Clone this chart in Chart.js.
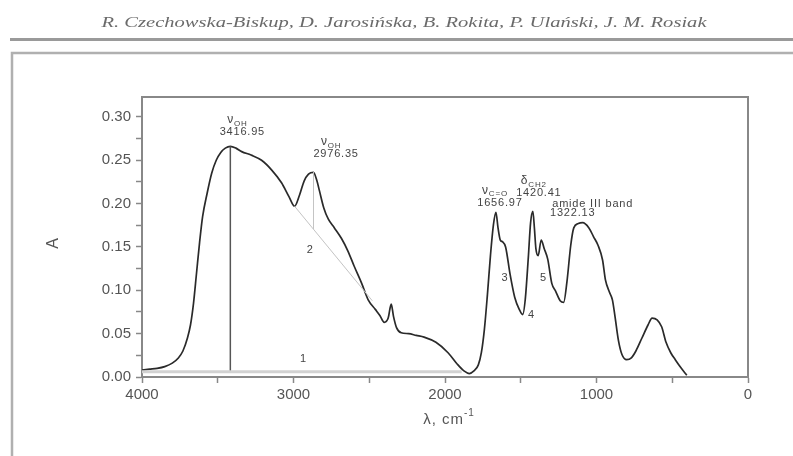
<!DOCTYPE html>
<html lang="en">
<head>
    <meta charset="UTF-8">
    <title>FTIR spectrum</title>
    <script src="https://cdn.jsdelivr.net/npm/chart.js"></script>
    <style>
        body {
            margin: 0;
            padding: 0;
            background: #fff;
        }
        canvas {
            display: block;
        }
    </style>
</head>
<body>
    <canvas id="myChart" width="793" height="456"></canvas>

    <script>
        // wavenumber (cm-1) and absorbance
        var wavenumbers = [4000, 3950, 3900, 3850, 3800, 3760, 3730, 3700, 3680, 3660, 3640, 3620, 3600, 3570, 3540, 3510, 3480, 3450, 3417, 3380, 3342, 3280, 3211, 3145, 3079, 3030, 2993, 2960, 2930, 2901, 2868, 2845, 2829, 2800, 2770, 2730, 2684, 2640, 2600, 2550, 2507, 2460, 2430, 2401, 2375, 2355, 2340, 2320, 2289, 2240, 2190, 2138, 2060, 1980, 1920, 1875, 1840, 1809, 1780, 1760, 1740, 1720, 1700, 1680, 1664, 1650, 1635, 1620, 1600, 1570, 1540, 1510, 1487, 1470, 1450, 1435, 1420, 1410, 1400, 1385, 1365, 1345, 1322, 1295, 1270, 1240, 1217, 1195, 1170, 1150, 1120, 1092, 1050, 1020, 990, 960, 941, 915, 895, 878, 855, 832, 801, 770, 740, 700, 660, 633, 600, 570, 541, 510, 480, 440, 404];
        var absorbance = [0.008, 0.009, 0.010, 0.012, 0.016, 0.022, 0.030, 0.045, 0.060, 0.085, 0.120, 0.155, 0.185, 0.212, 0.235, 0.250, 0.259, 0.264, 0.266, 0.264, 0.260, 0.256, 0.250, 0.239, 0.224, 0.208, 0.197, 0.210, 0.226, 0.234, 0.236, 0.226, 0.215, 0.195, 0.182, 0.172, 0.160, 0.145, 0.128, 0.108, 0.089, 0.078, 0.071, 0.063, 0.068, 0.084, 0.070, 0.057, 0.051, 0.050, 0.048, 0.046, 0.040, 0.028, 0.015, 0.007, 0.004, 0.007, 0.014, 0.028, 0.055, 0.095, 0.140, 0.176, 0.190, 0.172, 0.158, 0.156, 0.150, 0.118, 0.092, 0.078, 0.072, 0.090, 0.138, 0.178, 0.191, 0.172, 0.148, 0.140, 0.158, 0.148, 0.136, 0.108, 0.099, 0.088, 0.086, 0.110, 0.152, 0.172, 0.177, 0.178, 0.172, 0.162, 0.152, 0.135, 0.112, 0.098, 0.089, 0.070, 0.042, 0.026, 0.020, 0.022, 0.030, 0.045, 0.060, 0.068, 0.066, 0.058, 0.040, 0.028, 0.020, 0.010, 0.002];

        // helper lines: baseline 1, OH peak height, tangent 2 and its drop
        var baseline1 = [[4000, 0.006], [1890, 0.006]];
        var ohPeakLine = [[3416.95, 0.006], [3416.95, 0.266]];
        var tangent2 = [[2993, 0.197], [2480, 0.088]];
        var drop2 = [[2868, 0.236], [2868, 0.171]];

        var xTicksMajor = [4000, 3000, 2000, 1000, 0];
        var yTicksMajor = [0.00, 0.05, 0.10, 0.15, 0.20, 0.25, 0.30];

        // peak labels: [wavenumber, absorbance anchor, symbol, subscript, value text]
        var peakLabels = [
            [3416.95, 0.266, 'ν', 'OH', '3416.95'],
            [2976.35, 0.236, 'ν', 'OH', '2976.35'],
            [1656.97, 0.190, 'ν', 'C=O', '1656.97'],
            [1420.41, 0.191, 'δ', 'CH2', '1420.41'],
            [1322.13, 0.178, 'amide III band', '', '1322.13']
        ];
        var bandNumbers = [['1', 2934, 0.021], ['2', 2890, 0.147], ['3', 1605, 0.114], ['4', 1430, 0.071], ['5', 1350, 0.114]];

        function toPoints(xs, ys) {
            return xs.map(function (x, i) { return { x: x, y: ys[i] }; });
        }
        function pairs(list) {
            return list.map(function (p) { return { x: p[0], y: p[1] }; });
        }

        var tickFont = { family: 'Liberation Sans, Arial, sans-serif', size: 15 };
        var sans = '"Liberation Sans", Arial, sans-serif';

        var decorPlugin = {
            id: 'decor',
            beforeDraw: function (chart) {
                var c = chart.ctx;
                c.save();
                c.fillStyle = '#fff';
                c.fillRect(0, 0, chart.width, chart.height);
                c.restore();
            },
            afterDraw: function (chart) {
                var c = chart.ctx;
                var a = chart.chartArea;
                var xs = chart.scales.x, ys = chart.scales.y;
                c.save();

                // page header, stretched to the width of the scan
                c.fillStyle = '#6a6a6a';
                c.font = 'italic 14px "Liberation Serif", serif';
                c.letterSpacing = '0px';
                c.textAlign = 'center';
                c.textBaseline = 'middle';
                var head = 'R. Czechowska-Biskup, D. Jarosińska, B. Rokita, P. Ulański, J. M. Rosiak';
                var hw = c.measureText(head).width;
                c.save();
                c.translate(404, 23);
                c.scale(605 / hw, 1);
                c.fillText(head, 0, 0);
                c.restore();

                c.strokeStyle = '#9a9a9a';
                c.lineWidth = 3;
                c.beginPath();
                c.moveTo(10, 39.5);
                c.lineTo(793, 39.5);
                c.stroke();

                // outer figure box
                c.strokeStyle = '#b0b0b0';
                c.lineWidth = 2.5;
                c.beginPath();
                c.moveTo(12, 456);
                c.lineTo(12, 53);
                c.lineTo(793, 53);
                c.stroke();

                // plot frame top and right
                c.strokeStyle = '#888';
                c.lineWidth = 2;
                c.beginPath();
                c.moveTo(a.left, a.top);
                c.lineTo(a.right, a.top);
                c.lineTo(a.right, a.bottom);
                c.stroke();

                // axis titles
                c.fillStyle = '#555';
                c.letterSpacing = '1px';
                c.font = '16px ' + sans;
                c.save();
                c.translate(54, (a.top + a.bottom) / 2 + 6);
                c.rotate(-Math.PI / 2);
                c.fillText('A', 0, 0);
                c.restore();
                c.font = '15px ' + sans;
                c.textAlign = 'left';
                var t1 = 'λ, cm', w1 = c.measureText(t1).width;
                c.font = '10px ' + sans;
                var w2 = c.measureText('-1').width;
                var x0 = (a.left + a.right) / 2 + 4 - (w1 + w2) / 2;
                c.font = '15px ' + sans;
                c.fillText(t1, x0, 420);
                c.font = '10px ' + sans;
                c.fillText('-1', x0 + w1, 413);

                // peak labels
                c.fillStyle = '#444';
                var offsets = [[12, -14], [39, -18], [3, -9], [6, -18], [25, -10]];
                peakLabels.forEach(function (p, i) {
                    var px = xs.getPixelForValue(p[0]);
                    var cx = px + offsets[i][0];
                    var vy = ys.getPixelForValue(p[1]) + offsets[i][1];
                    c.textAlign = 'center';
                    c.letterSpacing = '0.8px';
                    if (p[3]) {
                        c.font = '12px ' + sans;
                        var sw = c.measureText(p[2]).width;
                        c.font = '8px ' + sans;
                        var subw = c.measureText(p[3]).width;
                        var sx = cx - (sw + subw) / 2 - 5;
                        c.textAlign = 'left';
                        c.font = '12px ' + sans;
                        c.fillText(p[2], sx, vy - 13);
                        c.font = '8px ' + sans;
                        c.fillText(p[3], sx + sw, vy - 9);
                        c.textAlign = 'center';
                        c.font = '11px ' + sans;
                        c.fillText(p[4], cx, vy);
                    } else {
                        c.font = '11px ' + sans;
                        c.fillText(p[2], cx + 20, vy - 9);
                        c.fillText(p[4], cx, vy);
                    }
                });

                // band numbers
                c.font = '11px ' + sans;
                c.textAlign = 'center';
                bandNumbers.forEach(function (b) {
                    c.fillText(b[0], xs.getPixelForValue(b[1]), ys.getPixelForValue(b[2]));
                });
                c.restore();
            }
        };

        var ctx = document.getElementById('myChart').getContext('2d');
        ctx.letterSpacing = '2px';
        var myChart = new Chart(ctx, {
            type: 'line',
            data: {
                datasets: [
                    {
                        data: pairs(baseline1),
                        borderColor: '#d2d2d2',
                        borderWidth: 3,
                        pointRadius: 0
                    },
                    {
                        data: pairs(tangent2),
                        borderColor: '#c4c4c4',
                        borderWidth: 1,
                        pointRadius: 0
                    },
                    {
                        data: pairs(drop2),
                        borderColor: '#c4c4c4',
                        borderWidth: 1,
                        pointRadius: 0
                    },
                    {
                        data: pairs(ohPeakLine),
                        borderColor: '#555',
                        borderWidth: 1.5,
                        pointRadius: 0
                    },
                    {
                        data: toPoints(wavenumbers, absorbance),
                        borderColor: '#2a2a2a',
                        borderWidth: 1.7,
                        pointRadius: 0,
                        cubicInterpolationMode: 'monotone'
                    }
                ]
            },
            options: {
                responsive: false,
                animation: false,
                layout: { padding: { top: 97, right: 45, left: 0, bottom: 0 } },
                plugins: {
                    legend: { display: false },
                    tooltip: { enabled: false }
                },
                scales: {
                    x: {
                        type: 'linear',
                        reverse: true,
                        min: 0,
                        max: 4000,
                        afterFit: function (s) { s.height = 79; },
                        border: { color: '#888', width: 2 },
                        grid: { drawOnChartArea: false, tickLength: 6, tickColor: '#888', tickWidth: 1.5 },
                        ticks: {
                            stepSize: 500,
                            autoSkip: false,
                            maxRotation: 0,
                            color: '#555',
                            font: tickFont,
                            padding: 3,
                            callback: function (v) { return xTicksMajor.indexOf(v) >= 0 ? String(v) : ''; }
                        }
                    },
                    y: {
                        min: 0,
                        max: 0.323,
                        afterFit: function (s) { s.width = 142; },
                        border: { color: '#888', width: 2 },
                        grid: { drawOnChartArea: false, tickLength: 6, tickColor: '#888', tickWidth: 1.5 },
                        ticks: {
                            stepSize: 0.025,
                            includeBounds: false,
                            autoSkip: false,
                            color: '#555',
                            font: tickFont,
                            padding: 5,
                            callback: function (v) {
                                var r = Math.round(v * 1000) / 1000;
                                return yTicksMajor.indexOf(r) >= 0 ? r.toFixed(2) : '';
                            }
                        }
                    }
                }
            },
            plugins: [decorPlugin]
        });
    </script>
</body>
</html>
